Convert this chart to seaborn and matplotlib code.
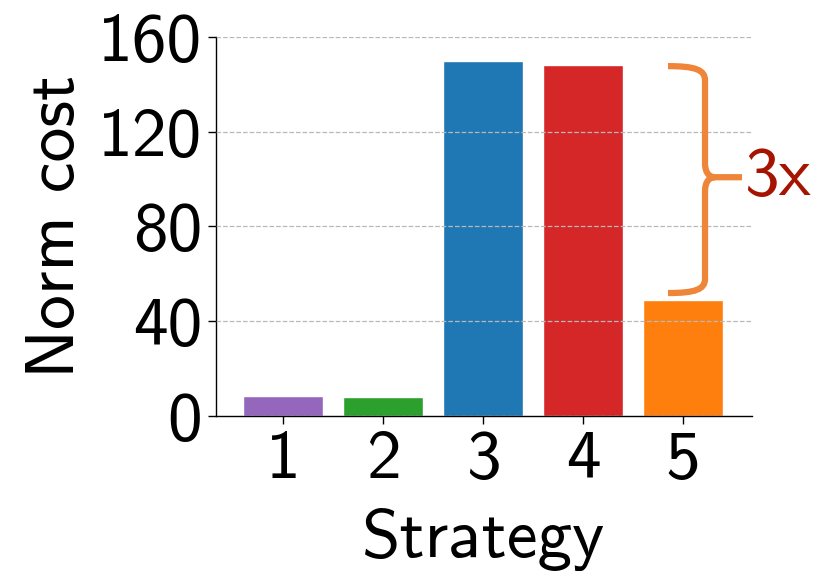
import numpy as np
import pandas as pd
import seaborn as sns
import matplotlib.pyplot as plt
from matplotlib.path import Path
from matplotlib.patches import PathPatch

# data
strategies = ['1', '2', '3', '4', '5']
norm_cost = [8.4, 7.8, 150.0, 148.3, 49.0]
bar_colors = ['#9467bd', '#2ca02c', '#1f77b4', '#d62728', '#ff7f0e']
yticks = [0, 40, 80, 120, 160]

df = pd.DataFrame({'Strategy': strategies, 'cost': norm_cost})

sns.set_theme(style='ticks')
plt.rcParams['font.family'] = ['cmss10', 'DejaVu Sans']
plt.rcParams['axes.unicode_minus'] = False
plt.rcParams['text.color'] = 'black'
plt.rcParams['axes.labelcolor'] = 'black'
plt.rcParams['xtick.color'] = 'black'
plt.rcParams['ytick.color'] = 'black'

fs = 50

fig = plt.figure(figsize=(8.2, 5.71), dpi=100)
ax = fig.add_axes([0.2634, 0.2715, 0.6537, 0.6637])

sns.barplot(data=df, x='Strategy', y='cost', hue='Strategy', palette=bar_colors,
            legend=False, width=0.8, saturation=1, ax=ax, zorder=1)

ax.set_ylim(0, 160)
ax.set_xlim(-0.67, 4.69)
ax.set_yticks(yticks)
ax.yaxis.grid(True, linestyle='--', color='#b8b8b8', linewidth=0.9, zorder=3)
ax.set_axisbelow(False)
sns.despine(ax=ax)
for s in ['left', 'bottom']:
    ax.spines[s].set_linewidth(1.0)
    ax.spines[s].set_color('black')
ax.tick_params(axis='both', labelsize=fs, length=6, width=1, color='black', pad=4)
ax.set_xlabel('Strategy', fontsize=fs, labelpad=12)
ax.set_ylabel('Norm cost', fontsize=fs, labelpad=8)

# curly brace showing the 3x gap between strategy 4 and 5
top, bot, mid = 147.7, 51.9, 100.8
x0, xv, xt = 3.85, 4.22, 4.59
verts = [(x0, top), (4.12, top), (xv, top - 1.5), (xv, top - 6),
         (xv, mid + 6),
         (xv, mid + 1.5), (4.27, mid), (4.32, mid),
         (xt, mid),
         (4.32, mid),
         (4.27, mid), (xv, mid - 1.5), (xv, mid - 6),
         (xv, bot + 6),
         (xv, bot + 1.5), (4.12, bot), (x0, bot)]
codes = [Path.MOVETO, Path.CURVE4, Path.CURVE4, Path.CURVE4,
         Path.LINETO,
         Path.CURVE4, Path.CURVE4, Path.CURVE4,
         Path.LINETO,
         Path.MOVETO,
         Path.CURVE4, Path.CURVE4, Path.CURVE4,
         Path.LINETO,
         Path.CURVE4, Path.CURVE4, Path.CURVE4]
brace = PathPatch(Path(verts, codes), facecolor='none', edgecolor='#ef8538',
                  linewidth=4.5, clip_on=False, zorder=5, capstyle='butt')
ax.add_patch(brace)
ax.text(4.61, mid, '3x', fontsize=fs, color='#a51400', va='center', ha='left',
        clip_on=False)

fig.savefig('out.png', dpi=100)
